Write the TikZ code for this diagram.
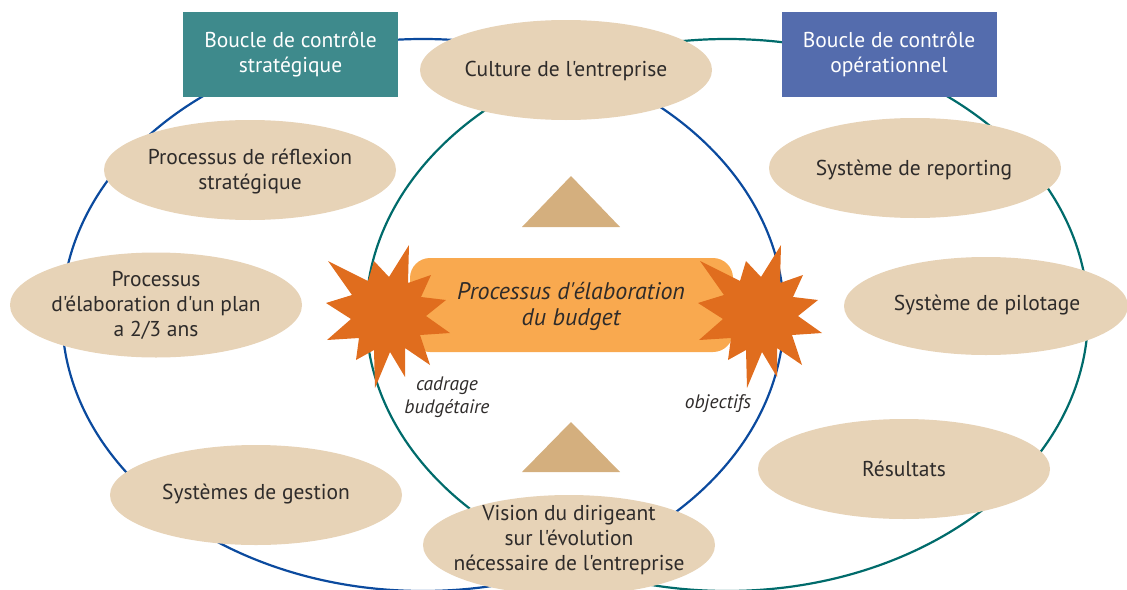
\documentclass[tikz,border=0pt]{standalone}
\usepackage{fontspec}
\setmainfont{PT Sans}[Ligatures=TeXOff]
\usetikzlibrary{shapes.geometric}
\definecolor{bubble}{HTML}{E7D3B7}
\definecolor{boxteal}{HTML}{3E8A8C}
\definecolor{boxblue}{HTML}{546CAD}
\definecolor{budgetfill}{HTML}{F9A94F}
\definecolor{burstcol}{HTML}{E06D1E}
\definecolor{tricol}{HTML}{D4AF7E}
\definecolor{txtcol}{HTML}{2E2B2A}
\definecolor{blueline}{HTML}{0B4A9E}
\definecolor{tealline}{HTML}{006B6B}
\tikzset{
  loopblue/.style={draw=blueline, line width=2.2pt},
  loopteal/.style={draw=tealline, line width=2.2pt},
  bub/.style={ellipse, fill=bubble, minimum width=292pt, minimum height=100pt, inner sep=0pt},
  txt/.style={align=center, text=txtcol, font=\fontsize{21.5}{25}\selectfont, inner sep=0pt},
  boxlbl/.style={minimum width=215pt, minimum height=85pt, inner sep=0pt, align=center, text=white, font=\fontsize{21.5}{25}\selectfont},
  lbl/.style={align=center, text=txtcol, font=\fontsize{19.5}{23}\selectfont\itshape, inner sep=0pt},
  tri/.style={fill=tricol},
  burst/.pic={
    \fill[burstcol] (-60,-54) -- (-20,-34) -- (-14,-54) -- (1,-38) -- (21,-70) -- (20,-32) -- (43,-40) -- (33,-18)
      -- (58,-15) -- (38,1) -- (62,18) -- (32,20) -- (42,50) -- (17,33) -- (17,62) -- (2,37) -- (-13,73)
      -- (-14,35) -- (-32,45) -- (-29,23) -- (-61,25) -- (-37,4) -- (-62,-12) -- (-36,-20) -- cycle;
  }
}
\begin{document}
\begin{tikzpicture}[x=1pt,y=-1pt]
\useasboundingbox (0,0) rectangle (1127,589);
% the two loops
\draw[loopblue] (423,315) ellipse [x radius=361, y radius=276];
\draw[loopteal] (727,315) ellipse [x radius=361, y radius=276];
% boxes
\node[boxlbl, fill=boxteal] (strat) at (290.5,54.5) {Boucle de contrôle\\stratégique};
\node[boxlbl, fill=boxblue] (oper) at (889,54.5) {Boucle de contrôle\\opérationnel};
% bubbles
\node[bub] (cult) at (566,70) {};
\node[txt] at (566,71) {Culture de l'entreprise};
\node[bub] (refl) at (250,170) {};
\node[txt] at (250,172) {Processus de réflexion\\stratégique};
\node[bub, minimum height=105pt] (plan) at (156,305) {};
\node[txt] at (156,305) {Processus\\d'élaboration d'un plan\\a 2/3 ans};
\node[bub] (gest) at (256,495) {};
\node[txt] at (256,494) {Systèmes de gestion};
\node[bub] (vis) at (569,545) {};
\node[txt] at (569,540) {Vision du dirigeant\\sur l'évolution\\nécessaire de l'entreprise};
\node[bub] (rep) at (915,168) {};
\node[txt] at (914,170) {Système de reporting};
\node[bub, minimum width=284pt, minimum height=98pt] (pil) at (986,306) {};
\node[txt] at (987,305) {Système de pilotage};
\node[bub] (res) at (904,469) {};
\node[txt] at (904,469) {Résultats};
% triangles
\fill[tri] (571,176) -- (620,227) -- (522,227) -- cycle;
\fill[tri] (571,422) -- (620,472) -- (522,472) -- cycle;
% budget
\node[fill=budgetfill, rounded corners=20pt, minimum width=323pt, minimum height=94pt, inner sep=0pt] (bud) at (571.5,305) {};
\pic at (388,315) {burst};
\pic at (760,315) {burst};
\node[txt, font=\fontsize{24}{26}\selectfont\itshape] at (571,306) {Processus d'élaboration\\du budget};
% labels
\node[lbl] (cad) at (447,397) {cadrage\\budgétaire};
\node[lbl] (obj) at (718,404) {objectifs};
\end{tikzpicture}
\end{document}
